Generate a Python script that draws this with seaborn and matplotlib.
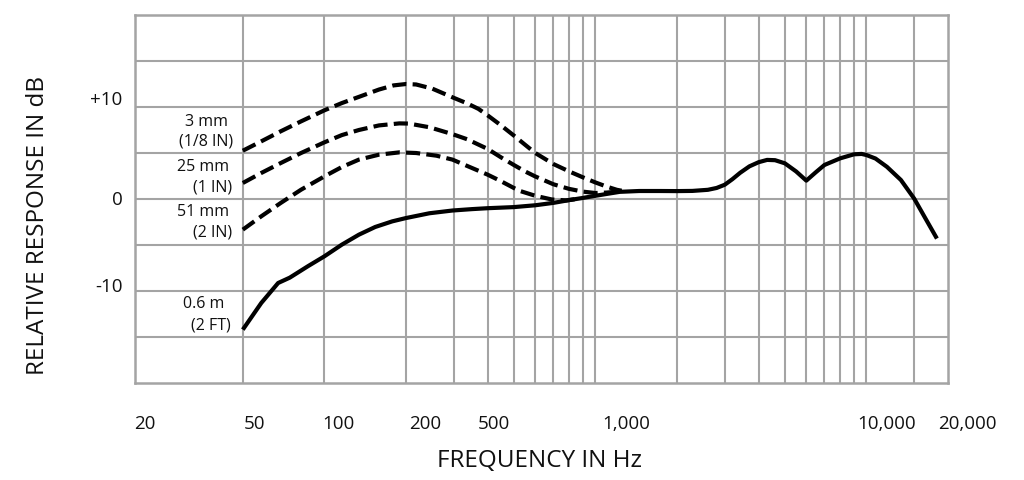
"""
Microphone frequency response with proximity effect curves.
"""

import pandas as pd
import seaborn as sns
import matplotlib.pyplot as plt
import matplotlib.transforms as mtransforms
from matplotlib.ticker import FixedLocator, NullFormatter, NullLocator

# 0.6 m (2 FT) response - solid curve
freq_far = [50, 58.5, 67.5, 74.5, 87, 100, 116, 134, 154, 178, 200, 244, 297, 350,
            400, 500, 600, 700, 800, 900, 1000, 1100, 1230, 1450, 1730, 2000, 2280,
            2600, 2800, 3000, 3200, 3420, 3700, 4000, 4300, 4600, 5000, 5500, 6000,
            6500, 7000, 8000, 9000, 9600, 10000, 10800, 11900, 13400, 15000, 16500,
            18200]
db_far = [-14.2, -11.3, -9.13, -8.55, -7.3, -6.23, -4.96, -3.88, -3.04, -2.43, -2.07,
          -1.55, -1.25, -1.1, -1.0, -0.88, -0.68, -0.42, -0.12, 0.12, 0.35, 0.55,
          0.78, 0.87, 0.87, 0.86, 0.88, 1.0, 1.2, 1.55, 2.15, 2.85, 3.55, 4.0, 4.25,
          4.22, 3.88, 3.0, 2.0, 2.9, 3.7, 4.42, 4.86, 4.9, 4.78, 4.4, 3.5, 2.07,
          0.05, -2.1, -4.3]

# 3 mm (1/8 IN)
freq_3mm = [50, 58.5, 69, 82, 100, 116, 134, 159, 180, 200, 218, 250, 300, 336, 370,
            400, 444, 500, 550, 600, 700, 800, 900, 1000, 1100, 1200, 1250]
db_3mm = [5.25, 6.27, 7.36, 8.44, 9.64, 10.43, 11.1, 11.9, 12.35, 12.5, 12.45, 12.0,
          11.0, 10.4, 9.8, 9.1, 8.1, 6.9, 5.9, 5.0, 3.8, 3.0, 2.35, 1.8, 1.35, 1.0,
          0.9]

# 25 mm (1 IN)
freq_25mm = [50, 58.5, 69, 82, 100, 116, 134, 159, 189, 205, 244, 297, 336, 400, 450,
             500, 550, 600, 700, 800, 900, 1000, 1100, 1200, 1250]
db_25mm = [1.74, 2.83, 3.91, 5.0, 6.16, 6.95, 7.5, 8.0, 8.22, 8.2, 7.8, 7.05, 6.5,
           5.45, 4.5, 3.7, 3.0, 2.45, 1.6, 1.1, 0.8, 0.65, 0.7, 0.8, 0.85]

# 51 mm (2 IN)
freq_51mm = [50, 58.5, 69, 82, 100, 116, 134, 159, 189, 218, 259, 297, 336, 400, 444,
             500, 530, 600, 690, 780, 850]
db_51mm = [-3.33, -1.88, -0.43, 1.01, 2.46, 3.48, 4.28, 4.82, 5.07, 5.0, 4.71, 4.28,
           3.6, 2.65, 2.0, 1.2, 0.85, 0.35, -0.05, -0.15, 0.0]

curve_names = ["0.6 m", "3 mm", "25 mm", "51 mm"]

# curve captions at the left end of the curves
caption_text = ["3 mm", "(1/8 IN)", "25 mm", "(1 IN)", "51 mm", "(2 IN)", "0.6 m", "(2 FT)"]
caption_freq = [44.1, 46.0, 44.5, 45.6, 44.5, 45.6, 42.9, 45.1]
caption_db = [8.4, 6.25, 3.5, 1.25, -1.45, -3.6, -11.4, -13.75]

# grid
grid_freq = [50, 100, 200, 300, 400, 500, 600, 700, 800, 900, 1000, 2000, 3000,
             4000, 5000, 6000, 7000, 8000, 9000, 10000, 15000]
grid_db = [-15, -10, -5, 0, 5, 10, 15]

# tick labels (placed as in the original drawing)
xlabel_pos = [21.8, 55.0, 112.7, 235.8, 422.5, 1303, 11910, 23500]
xlabel_text = ["20", "50", "100", "200", "500", "1,000", "10,000", "20,000"]
ylabel_pos = [11.0, 0.15, -9.4]
ylabel_text = ["+10", "0", "-10"]

GRID_COLOR = "#a4a4a4"
TEXT_COLOR = "#111111"

sns.set_style("white")
plt.rcParams["font.family"] = ["Open Sans", "DejaVu Sans"]

df = pd.concat([
    pd.DataFrame({"freq": freq_far, "db": db_far, "curve": "0.6 m"}),
    pd.DataFrame({"freq": freq_3mm, "db": db_3mm, "curve": "3 mm"}),
    pd.DataFrame({"freq": freq_25mm, "db": db_25mm, "curve": "25 mm"}),
    pd.DataFrame({"freq": freq_51mm, "db": db_51mm, "curve": "51 mm"}),
], ignore_index=True)

fig = plt.figure(figsize=(10.24, 4.8), dpi=100)
ax = fig.add_axes([0.1318, 0.2021, 0.794, 0.7666])
ax.set_xscale("log")

sns.lineplot(
    data=df, x="freq", y="db", hue="curve", style="curve",
    hue_order=curve_names, style_order=curve_names,
    palette={n: "black" for n in curve_names},
    dashes={"0.6 m": "", "3 mm": (3.4, 1.5), "25 mm": (3.4, 1.5), "51 mm": (3.4, 1.5)},
    sort=False, estimator=None, legend=False, linewidth=3.0, ax=ax,
)
for line in ax.get_lines():
    line.set_solid_capstyle("butt")
    line.set_solid_joinstyle("round")
    line.set_dash_joinstyle("round")

ax.set_xlim(20, 20000)
ax.set_ylim(-20, 20)

# grid on minor ticks, y labels on major ticks
ax.xaxis.set_major_locator(NullLocator())
ax.xaxis.set_minor_locator(FixedLocator(grid_freq))
ax.xaxis.set_minor_formatter(NullFormatter())
ax.yaxis.set_minor_locator(FixedLocator(grid_db))
ax.yaxis.set_major_locator(FixedLocator(ylabel_pos))
ax.set_yticklabels(ylabel_text)
ax.grid(False, which="major")
ax.grid(True, which="minor", color=GRID_COLOR, linewidth=1.5)
ax.set_axisbelow(True)
ax.tick_params(axis="both", which="both", length=0)
ax.tick_params(axis="y", which="major", pad=9, labelsize=13.5, labelcolor=TEXT_COLOR)

# x labels as text so the last one may sit past the right edge
xtrans = mtransforms.blended_transform_factory(ax.transData, ax.transAxes)
for txt, fx in zip(xlabel_text, xlabel_pos):
    ax.text(fx, -0.111, txt, transform=xtrans, ha="center", va="center",
            fontsize=13.5, color=TEXT_COLOR, clip_on=False)

for spine in ax.spines.values():
    spine.set_color(GRID_COLOR)
    spine.set_linewidth(1.8)

for txt, fx, fy in zip(caption_text, caption_freq, caption_db):
    ax.text(fx, fy, txt, ha="right", va="center", fontsize=11.5, color=TEXT_COLOR)

ax.set_xlabel("FREQUENCY IN Hz", fontsize=17.5, color=TEXT_COLOR, va="center")
ax.xaxis.set_label_coords(0.497, -0.212)
ax.set_ylabel("RELATIVE RESPONSE IN dB", fontsize=17.5, color=TEXT_COLOR, va="center")
ax.yaxis.set_label_coords(-0.119, 0.429)

fig.savefig("out.png", dpi=100)
